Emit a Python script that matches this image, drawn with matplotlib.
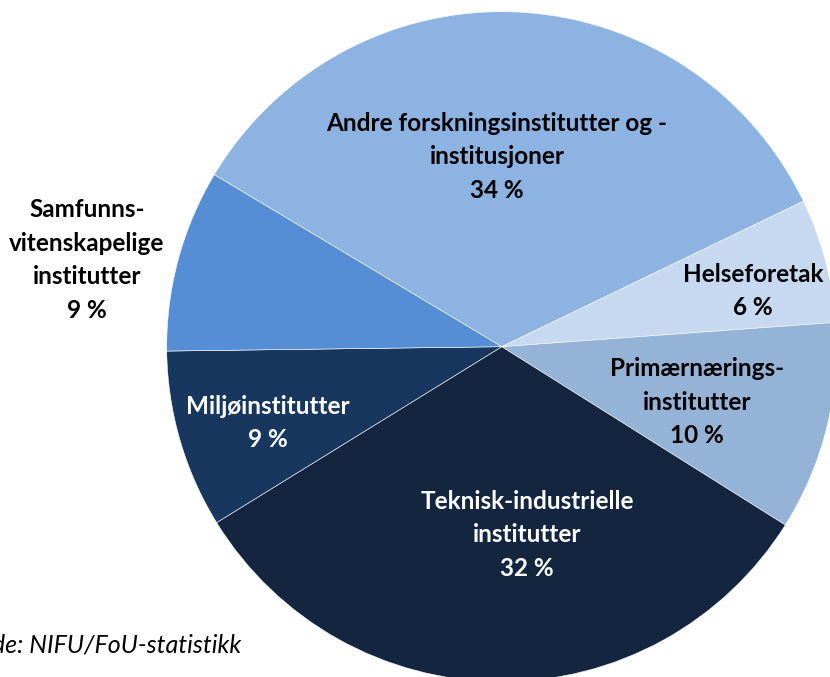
import matplotlib
matplotlib.use("Agg")
import matplotlib.pyplot as plt

# Andel FoU-utgifter etter instituttgruppe (lest av figuren)
categories = [
    "Andre forskningsinstitutter og -\ninstitusjoner",
    "Helseforetak",
    "Primærnærings-\ninstitutter",
    "Teknisk-industrielle\ninstitutter",
    "Miljøinstitutter",
    "Samfunns-\nvitenskapelige\ninstitutter",
]
shares = [34.3, 6.0, 10.1, 32.3, 8.6, 8.8]
source = "Kilde: NIFU/FoU-statistikk"

colors = ["#8DB3E2", "#C6D9F1", "#95B3D7", "#13253F", "#17375E", "#558ED5"]
text_colors = ["black", "black", "black", "white", "white", "black"]
# label centres in pixels (x, y from top)
label_pos = [(497, 157), (753, 291), (697, 402), (527, 535), (268, 423), (87, 260)]

W, H = 830, 677
fig = plt.figure(figsize=(W / 100, H / 100), dpi=100)
ax = fig.add_axes([0, 0, 1, 1])

ax.pie(shares, colors=colors, startangle=149.1, counterclock=False,
       center=(501.7, H - 346.7), radius=335,
       wedgeprops=dict(edgecolor="white", linewidth=0.4), frame=True)
ax.set_xlim(0, W)
ax.set_ylim(0, H)
ax.set_aspect("equal")
ax.axis("off")

for name, val, (x, y), c in zip(categories, shares, label_pos, text_colors):
    ax.text(x, H - y, f"{name}\n{val:.0f} %", ha="center", va="center",
            color=c, fontsize=17.5, fontweight="bold", family="Lato",
            linespacing=1.55)

ax.text(241, H - 645, source, ha="right", va="center", fontsize=18,
        style="italic", family="Lato")

fig.savefig("out.png", dpi=100)
